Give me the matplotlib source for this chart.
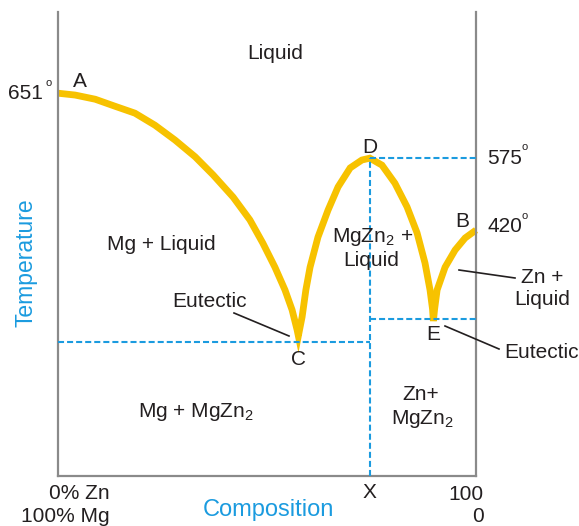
import matplotlib
matplotlib.use("Agg")
import matplotlib.pyplot as plt
from matplotlib.lines import Line2D

plt.rcParams['font.family'] = ['Liberation Sans', 'DejaVu Sans']
plt.rcParams['mathtext.fontset'] = 'custom'
plt.rcParams['mathtext.rm'] = 'Liberation Sans'
plt.rcParams['mathtext.it'] = 'Liberation Sans:italic'
plt.rcParams['mathtext.bf'] = 'Liberation Sans:bold'

# ---- data (composition % Zn, relative temperature 0-100) ----
# liquidus A -> C (Mg side)
liq_ac_x = [0, 4.1, 8.9, 13.6, 18.4, 23.2, 28.0, 32.8, 37.1, 41.9, 45.9, 49.0, 51.9, 54.3, 56.0, 57.2, 57.5]
liq_ac_y = [82.5, 82.1, 81.2, 79.7, 78.2, 75.6, 72.4, 68.8, 64.9, 60.1, 55.2, 50.2, 45.0, 40.1, 35.8, 31.5, 30.2]
# liquidus C -> D -> E (MgZn2 dome)
liq_cde_x = [58.4, 59.3, 60.3, 62.2, 64.6, 67.0, 69.9, 72.7, 74.6, 77.5, 80.6, 83.5, 85.9, 87.8, 89.0, 89.6, 89.8]
liq_cde_y = [34.3, 40.1, 45.0, 51.5, 57.3, 62.3, 66.4, 68.1, 68.5, 67.0, 63.1, 58.0, 52.4, 45.9, 40.1, 36.0, 33.4]
# liquidus E -> B (Zn side)
liq_eb_x = [90.1, 90.7, 92.6, 95.0, 97.4, 100]
liq_eb_y = [36.0, 40.1, 45.0, 48.7, 51.3, 53.0]

x_compound = 74.6      # X (MgZn2)
t_eut_c = 28.9         # eutectic C
t_eut_e = 33.8         # eutectic E
t_d = 68.5             # melting point of MgZn2 (D)

temp_labels = ['651', '575', '420']
point_labels = ['A', 'B', 'C', 'D', 'E']

W, H = 579, 526
fig = plt.figure(figsize=(W / 100, H / 100), dpi=100)
ax = fig.add_axes([58 / W, 50 / H, 418 / W, 464 / H])
ax.set_xlim(0, 100)
ax.set_ylim(0, 100)
ax.set_xticks([])
ax.set_yticks([])
for s in ['left', 'right', 'bottom']:
    ax.spines[s].set_color('#8A8A8A')
    ax.spines[s].set_linewidth(1.6)
ax.spines['top'].set_visible(False)

BLUE = '#1B9BDF'
GOLD = '#F7C200'
INK = '#231F20'

# full liquidus
lx = liq_ac_x + liq_cde_x + liq_eb_x
ly = liq_ac_y + liq_cde_y + liq_eb_y
ax.plot(lx, ly, color=GOLD, lw=4.9, solid_joinstyle='miter', solid_capstyle='butt',
        clip_on=False, zorder=2)

dash = dict(color=BLUE, lw=1.5, dashes=(2.9, 1.45), zorder=3, clip_on=False)
ax.plot([0, x_compound], [t_eut_c, t_eut_c], **dash)
ax.plot([x_compound, 100], [t_eut_e, t_eut_e], **dash)
ax.plot([x_compound, 100], [t_d, t_d], **dash)
ax.plot([x_compound, x_compound], [0, t_d], **dash)


def P(px, py):
    return px / W, 1 - py / H


def T(px, py, s, ha='center', va='baseline', size=15, color=INK, **kw):
    fig.text(*P(px, py), s, ha=ha, va=va, fontsize=size, color=color, **kw)


def L(x0, y0, x1, y1):
    fig.add_artist(Line2D([x0 / W, x1 / W], [1 - y0 / H, 1 - y1 / H], color=INK, lw=1.2))


# region labels
T(275, 59, 'Liquid')
T(161, 250, 'Mg + Liquid')
T(210, 307, 'Eutectic')
T(138, 417, r'Mg + MgZn$_\mathregular{2}$', ha='left')
T(332, 242, r'MgZn$_\mathregular{2}$ +', ha='left')
T(371, 266, 'Liquid')
T(421, 400, 'Zn+')
T(391, 424, r'MgZn$_\mathregular{2}$', ha='left')
T(542, 283, 'Zn +')
T(542, 305, 'Liquid')
T(504, 358, 'Eutectic', ha='left')

# leader lines
L(234, 313, 289, 336)
L(459, 270, 515, 278)
L(445, 326, 499, 349)

# axis end labels
T(110, 499, '0% Zn', ha='right')
T(110, 522, '100% Mg', ha='right')
T(484, 500, '100', ha='right')
T(484, 522, '0', ha='right')
T(369, 498, 'X')
T(268, 516, 'Composition', size=17, color=BLUE)
T(26, 263, 'Temperature', va='center', size=16.5, color=BLUE, rotation=90)

# point labels
T(79.5, 87, point_labels[0])
T(462, 227, point_labels[1])
T(299, 365, point_labels[2])
T(370, 153, point_labels[3])
T(433, 340, point_labels[4])

# temperature labels
T(43, 99, temp_labels[0], ha='right')
T(45, 86, 'o', ha='left', size=8)
T(487, 164, temp_labels[1], ha='left')
T(522, 150, 'o', ha='left', size=8)
T(487, 232, temp_labels[2], ha='left')
T(522, 219, 'o', ha='left', size=8)

fig.savefig('out.png', dpi=100)
